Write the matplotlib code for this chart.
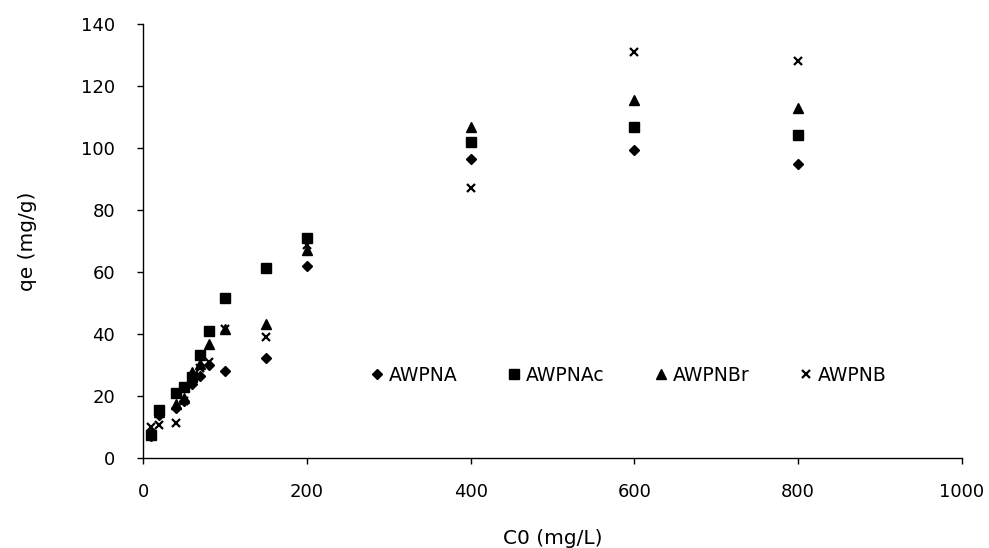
import matplotlib.pyplot as plt

# concentração inicial (mg/L)
c0 = [10, 20, 40, 50, 60, 70, 80, 100, 150, 200, 400, 600, 800]

# qe (mg/g) por adsorvente
awpna = [7.0, 14.0, 16.0, 18.5, 24.0, 26.5, 30.0, 28.2, 32.2, 61.8, 96.5, 99.5, 94.7]
awpnac = [7.5, 15.5, 21.0, 23.0, 26.0, 33.2, 40.9, 51.7, 61.2, 70.9, 102.0, 106.9, 104.3]
awpnbr = [8.0, 14.8, 17.5, 19.5, 27.8, 30.2, 36.8, 41.5, 43.2, 67.2, 106.7, 115.5, 113.0]
awpnb = [10.0, 10.5, 11.2, 18.5, 25.0, 29.0, 31.0, 41.5, 39.1, 68.8, 87.0, 131.1, 128.0]

plt.rcParams['font.family'] = ['DejaVu Sans']

fig = plt.figure(figsize=(9.89, 5.48), dpi=100)
ax = fig.add_axes([0.1446, 0.1642, 0.828, 0.792])

ax.plot(c0, awpna, 'D', color='black', markersize=5.3, linestyle='none', label='AWPNA')
ax.plot(c0, awpnac, 's', color='black', markersize=6.5, linestyle='none', label='AWPNAc')
ax.plot(c0, awpnbr, '^', color='black', markersize=6.5, linestyle='none', label='AWPNBr')
ax.plot(c0, awpnb, 'x', color='black', markersize=6, markeredgewidth=1.6, linestyle='none', label='AWPNB')

ax.set_xlim(0, 1000)
ax.set_ylim(0, 140)
ax.set_xticks(range(0, 1001, 200))
ax.set_yticks(range(0, 141, 20))
ax.tick_params(labelsize=13, length=4, width=1, direction='out', colors='black')
ax.tick_params(axis='x', pad=14)
ax.tick_params(axis='y', pad=16)

for s in ['top', 'right']:
    ax.spines[s].set_visible(False)
for s in ['left', 'bottom']:
    ax.spines[s].set_color('black')
    ax.spines[s].set_linewidth(1)

ax.set_xlabel('C0 (mg/L)', fontsize=14.5)
ax.set_ylabel('qe (mg/g)', fontsize=14.5)
ax.xaxis.set_label_coords(0.5, -0.163)
ax.yaxis.set_label_coords(-0.129, 0.5)

ax.legend(loc='center', bbox_to_anchor=(0.59, 0.19), ncol=4, frameon=False,
          fontsize=13.5, handletextpad=0.05, columnspacing=2.4, handlelength=1.2)

fig.savefig('out.png', dpi=100)
